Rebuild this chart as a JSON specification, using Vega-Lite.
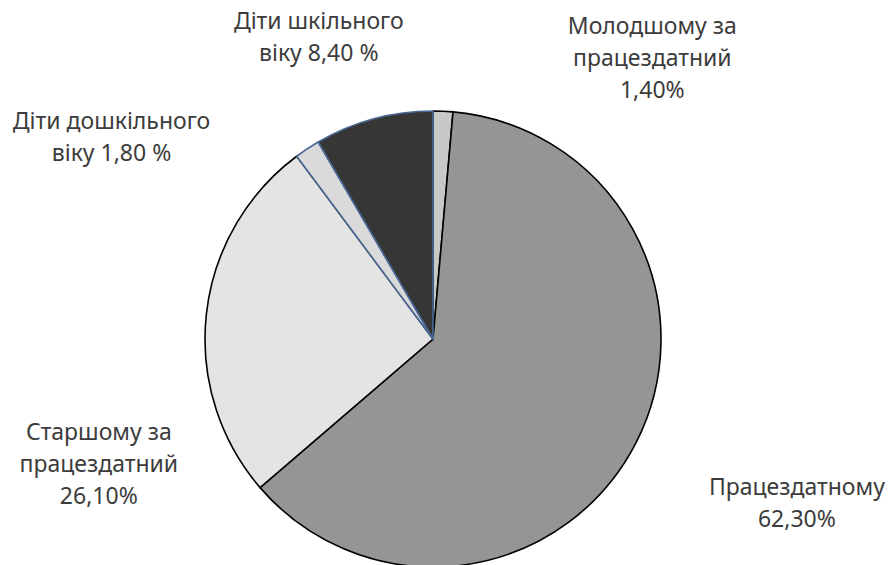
{
  "$schema": "https://vega.github.io/schema/vega-lite/v6.json",
  "width": 866,
  "height": 452,
  "autosize": "none",
  "padding": {"left": 0, "top": 113, "right": 29, "bottom": 0},
  "background": "white",
  "config": {"view": {"stroke": null}},
  "data": {
    "values": [
      {"idx": 1, "category": "Молодшому за працездатний", "value": 1.4, "label": "Молодшому за\nпрацездатний\n1,40%"},
      {"idx": 2, "category": "Працездатному", "value": 62.3, "label": "Працездатному\n62,30%"},
      {"idx": 3, "category": "Старшому за працездатний", "value": 26.1, "label": "Старшому за\nпрацездатний\n26,10%"},
      {"idx": 4, "category": "Діти дошкільного віку", "value": 1.8, "label": "Діти дошкільного\nвіку 1,80 %"},
      {"idx": 5, "category": "Діти шкільного віку", "value": 8.4, "label": "Діти шкільного\nвіку 8,40 %"}
    ]
  },
  "encoding": {
    "theta": {"field": "value", "type": "quantitative", "stack": true},
    "order": {"field": "idx", "type": "quantitative", "sort": "ascending"}
  },
  "layer": [
    {
      "mark": {"type": "arc", "outerRadius": 228, "strokeWidth": 1.6},
      "encoding": {
        "color": {
          "field": "category",
          "type": "nominal",
          "scale": {
            "domain": ["Молодшому за працездатний", "Працездатному", "Старшому за працездатний", "Діти дошкільного віку", "Діти шкільного віку"],
            "range": ["#c8c8c8", "#959595", "#e4e4e4", "#dadada", "#363636"]
          },
          "legend": null
        },
        "stroke": {"condition": {"test": "datum.idx >= 4", "value": "#4a6896"}, "value": "#000000"}
      }
    },
    {
      "mark": {"type": "text", "radius": 280, "dx": 207, "dy": -32, "font": "Noto Sans", "fontSize": 23, "lineHeight": 32, "lineBreak": "\n", "fill": "#3c3c3c", "align": "center", "baseline": "middle"},
      "encoding": {"text": {"condition": {"test": "datum.idx === 1", "field": "label"}, "value": ""}}
    },
    {
      "mark": {"type": "text", "radius": 300, "dx": 97, "dy": 12, "font": "Noto Sans", "fontSize": 23, "lineHeight": 32, "lineBreak": "\n", "fill": "#3c3c3c", "align": "center", "baseline": "middle"},
      "encoding": {"text": {"condition": {"test": "datum.idx === 2", "field": "label"}, "value": ""}}
    },
    {
      "mark": {"type": "text", "radius": 300, "dx": -36, "dy": 127, "font": "Noto Sans", "fontSize": 23, "lineHeight": 32, "lineBreak": "\n", "fill": "#3c3c3c", "align": "center", "baseline": "middle"},
      "encoding": {"text": {"condition": {"test": "datum.idx === 3", "field": "label"}, "value": ""}}
    },
    {
      "mark": {"type": "text", "radius": 300, "dx": -156, "dy": 33, "font": "Noto Sans", "fontSize": 23, "lineHeight": 32, "lineBreak": "\n", "fill": "#3c3c3c", "align": "center", "baseline": "middle"},
      "encoding": {"text": {"condition": {"test": "datum.idx === 4", "field": "label"}, "value": ""}}
    },
    {
      "mark": {"type": "text", "radius": 300, "dx": -36, "dy": -27, "font": "Noto Sans", "fontSize": 23, "lineHeight": 32, "lineBreak": "\n", "fill": "#3c3c3c", "align": "center", "baseline": "middle"},
      "encoding": {"text": {"condition": {"test": "datum.idx === 5", "field": "label"}, "value": ""}}
    }
  ]
}
